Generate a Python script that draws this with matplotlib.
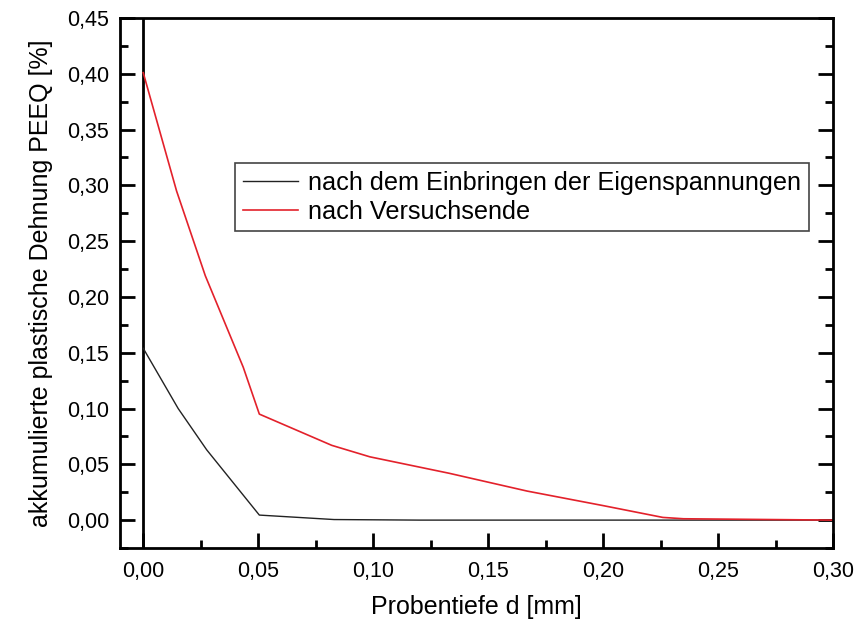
import matplotlib
matplotlib.use("Agg")
import matplotlib.pyplot as plt
from matplotlib.ticker import MultipleLocator, FuncFormatter

plt.rcParams['font.family'] = ['Liberation Sans', 'DejaVu Sans']

# Probentiefe d [mm] and PEEQ [%]
depth_init = [0.0, 0.0152, 0.0276, 0.0505, 0.083, 0.12, 0.16, 0.20, 0.24, 0.30]
peeq_init = [0.154, 0.100, 0.063, 0.0045, 0.0005, 0.0, 0.0, 0.0, 0.0, 0.0]

depth_end = [0.0, 0.0145, 0.027, 0.0435, 0.0505, 0.082, 0.0986, 0.133, 0.167, 0.20, 0.226, 0.235, 0.30]
peeq_end = [0.401, 0.295, 0.219, 0.137, 0.095, 0.067, 0.0567, 0.042, 0.026, 0.013, 0.0024, 0.0012, 0.0]

label_init = "nach dem Einbringen der Eigenspannungen"
label_end = "nach Versuchsende"

fig = plt.figure(figsize=(8.55, 6.23), dpi=100)
ax = fig.add_axes([120/855, 1-548/623, (833-120)/855, (548-18)/623])

ax.plot(depth_init, peeq_init, color='#222222', lw=1.0, label=label_init)
ax.plot(depth_end, peeq_end, color='#e3212b', lw=1.2, label=label_end)
ax.axvline(0.0, color='black', lw=2.0, zorder=1)

ax.set_xlim(-0.0101, 0.30)
ax.set_ylim(-0.025, 0.45)

ax.xaxis.set_major_locator(MultipleLocator(0.05))
ax.xaxis.set_minor_locator(MultipleLocator(0.025))
ax.yaxis.set_major_locator(MultipleLocator(0.05))
ax.yaxis.set_minor_locator(MultipleLocator(0.025))
fmt = FuncFormatter(lambda v, p: f"{v:.2f}".replace('.', ','))
ax.xaxis.set_major_formatter(fmt)
ax.yaxis.set_major_formatter(fmt)

for s in ax.spines.values():
    s.set_linewidth(2.0)
ax.tick_params(which='both', direction='in', width=2.0, labelsize=15.5,
               right=True, top=False, color='black')
ax.tick_params(which='major', length=11)
ax.tick_params(which='minor', length=6)
ax.tick_params(axis='x', pad=9)
ax.tick_params(axis='y', pad=8)

ax.set_xlabel("Probentiefe d [mm]", fontsize=18, labelpad=10)
ax.set_ylabel("akkumulierte plastische Dehnung PEEQ [%]", fontsize=18, labelpad=10)

leg = ax.legend(loc='upper left', bbox_to_anchor=(235/855, 1-163/623),
                bbox_transform=fig.transFigure, borderaxespad=0,
                fontsize=18.2, frameon=True, fancybox=False, framealpha=1,
                edgecolor='#444444', handlelength=2.2, handletextpad=0.4,
                borderpad=0.3, labelspacing=0.2)
leg.get_frame().set_linewidth(1.2)

fig.savefig("out.png", dpi=100)
